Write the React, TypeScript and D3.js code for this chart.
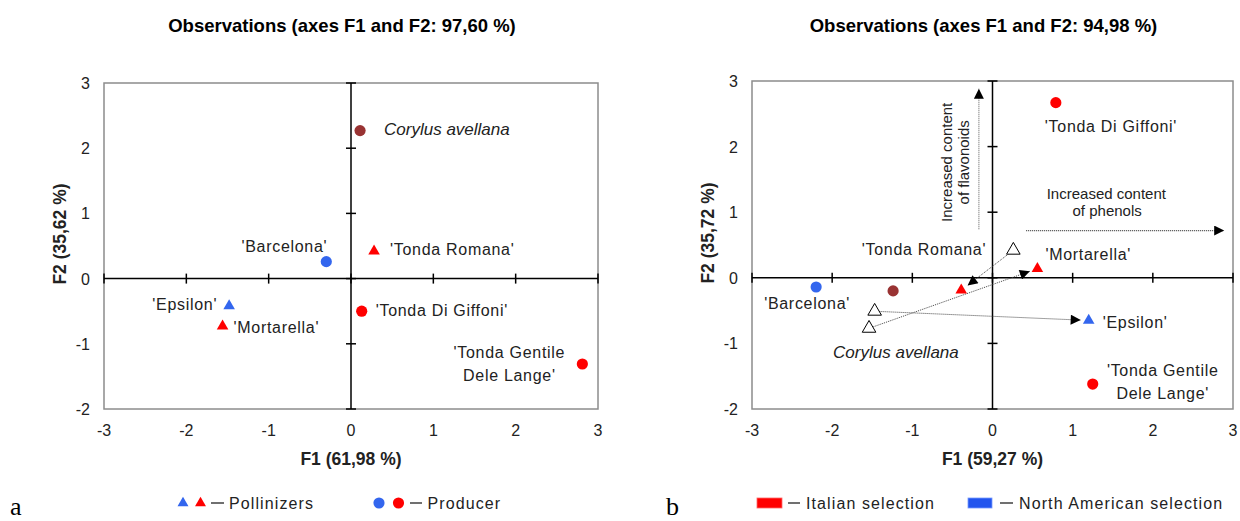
import React, { useEffect, useRef } from 'react';
import * as d3 from 'd3';

const xTicks = [-3, -2, -1, 0, 1, 2, 3];
const yTicks = [-2, -1, 0, 1, 2, 3];

// panel a (F1 61,98 %, F2 35,62 %)
const namesA = ['Corylus avellana', "'Barcelona'", "'Tonda Romana'", "'Epsilon'", "'Mortarella'", "'Tonda Di Giffoni'", "'Tonda Gentile|Dele Lange'"];
const f1A = [0.11, -0.30, 0.28, -1.48, -1.56, 0.13, 2.81];
const f2A = [2.27, 0.26, 0.42, -0.42, -0.73, -0.50, -1.31];
const groupA = ['wild', 'na', 'it', 'na', 'it', 'it', 'it'];
const shapeA = ['circle', 'circle', 'triangle', 'triangle', 'triangle', 'circle', 'circle'];

// panel b (F1 59,27 %, F2 35,72 %)
const namesB = ['Corylus avellana', "'Barcelona'", "'Tonda Romana'", "'Epsilon'", "'Mortarella'", "'Tonda Di Giffoni'", "'Tonda Gentile|Dele Lange'"];
const f1B = [-1.24, -2.20, -0.39, 1.20, 0.56, 0.79, 1.25];
const f2B = [-0.20, -0.14, -0.19, -0.65, 0.14, 2.67, -1.62];
const groupB = groupA;
const shapeB = shapeA;

// pollinizers that moved between a and b (open triangles = former position)
const movedIdx = [2, 3, 4];
const movedF1 = [0.26, -1.47, -1.54];
const movedF2 = [0.42, -0.51, -0.77];

// label placement (pixel offsets from the point)
const labelA = [
  { dx: 24, dy: 4, anchor: 'start' },
  { dx: 1, dy: -10, anchor: 'end' },
  { dx: 16, dy: 4, anchor: 'start' },
  { dx: -12, dy: 4, anchor: 'end' },
  { dx: 11, dy: 7, anchor: 'start' },
  { dx: 14, dy: 5, anchor: 'start' },
  { dx: -73, dy: -6, anchor: 'middle' },
];
const labelB = [
  { dx: -60, dy: 67, anchor: 'start' },
  { dx: -52, dy: 22, anchor: 'start' },
  { dx: 25, dy: -35, anchor: 'end' },
  { dx: 14, dy: 8, anchor: 'start' },
  { dx: 8, dy: -9, anchor: 'start' },
  { dx: -11, dy: 29, anchor: 'start' },
  { dx: 70, dy: -8, anchor: 'middle' },
];

const colors: Record<string, string> = { wild: '#993333', na: '#3366ee', it: '#ff0000' };
const SANS = 'Liberation Sans, Arial, sans-serif';

type Panel = {
  title: string; xTitle: string; yTitle: string;
  x0: number; x1: number; y0: number; y1: number;
  f1: number[]; f2: number[]; names: string[]; groups: string[]; shapes: string[];
  labels: { dx: number; dy: number; anchor: string }[];
};

function drawPanel(svg: d3.Selection<SVGSVGElement, unknown, null, undefined>, p: Panel) {
  const x = d3.scaleLinear().domain([-3, 3]).range([p.x0, p.x1]);
  const y = d3.scaleLinear().domain([-2, 3]).range([p.y1, p.y0]);
  const g = svg.append('g');

  g.append('text').attr('x', (p.x0 + p.x1) / 2 - 9).attr('y', 32).attr('text-anchor', 'middle')
    .attr('font-family', SANS).attr('font-weight', 'bold').attr('font-size', 18.5).text(p.title);

  g.append('rect').attr('x', p.x0).attr('y', p.y0).attr('width', p.x1 - p.x0).attr('height', p.y1 - p.y0)
    .attr('fill', 'none').attr('stroke', '#8c8c8c').attr('stroke-width', 1.5);

  // central axes with cross ticks
  g.append('line').attr('x1', p.x0).attr('x2', p.x1).attr('y1', y(0)).attr('y2', y(0)).attr('stroke', '#000').attr('stroke-width', 1.5);
  g.append('line').attr('x1', x(0)).attr('x2', x(0)).attr('y1', p.y0).attr('y2', p.y1).attr('stroke', '#000').attr('stroke-width', 1.5);
  g.selectAll('.tx').data(xTicks).enter().append('line')
    .attr('x1', d => x(d)).attr('x2', d => x(d)).attr('y1', y(0) - 5).attr('y2', y(0) + 5)
    .attr('stroke', '#000').attr('stroke-width', 1.5);
  g.selectAll('.ty').data(yTicks).enter().append('line')
    .attr('x1', x(0) - 5).attr('x2', x(0) + 5).attr('y1', d => y(d)).attr('y2', d => y(d))
    .attr('stroke', '#000').attr('stroke-width', 1.5);

  g.selectAll('.lx').data(xTicks).enter().append('text')
    .attr('x', d => x(d)).attr('y', p.y1 + 27).attr('text-anchor', 'middle')
    .attr('font-family', SANS).attr('font-size', 16).attr('fill', '#222').text(d => d);
  g.selectAll('.ly').data(yTicks).enter().append('text')
    .attr('x', p.x0 - 14).attr('y', d => y(d) + 6).attr('text-anchor', 'end')
    .attr('font-family', SANS).attr('font-size', 16).attr('fill', '#222').text(d => d);

  g.append('text').attr('x', x(0)).attr('y', p.y1 + 56).attr('text-anchor', 'middle')
    .attr('font-family', SANS).attr('font-weight', 'bold').attr('font-size', 17.5).attr('fill', '#222').text(p.xTitle);
  g.append('text').attr('transform', `translate(${p.x0 - 38},${(p.y0 + p.y1) / 2 - 12}) rotate(-90)`)
    .attr('text-anchor', 'middle').attr('font-family', SANS).attr('font-weight', 'bold')
    .attr('font-size', 17.5).attr('fill', '#222').text(p.yTitle);

  return { g, x, y };
}

function drawPoints(g: any, x: any, y: any, p: Panel) {
  const idx = d3.range(p.names.length);
  const tri = d3.symbol().type(d3.symbolTriangle).size(58);
  g.selectAll('.pt').data(idx).enter().append('path')
    .attr('d', (i: number) => p.shapes[i] === 'circle' ? d3.symbol().type(d3.symbolCircle).size(98)() : tri())
    .attr('transform', (i: number) => `translate(${x(p.f1[i])},${y(p.f2[i])})`)
    .attr('fill', (i: number) => colors[p.groups[i]]);

  const lab = g.selectAll('.lab').data(idx).enter().append('text')
    .attr('x', (i: number) => x(p.f1[i]) + p.labels[i].dx)
    .attr('y', (i: number) => y(p.f2[i]) + p.labels[i].dy)
    .attr('text-anchor', (i: number) => p.labels[i].anchor)
    .attr('font-family', SANS).attr('fill', '#222')
    .attr('font-size', (i: number) => (i === 0 ? 17 : 16))
    .attr('font-style', (i: number) => (i === 0 ? 'italic' : 'normal'))
    .attr('letter-spacing', (i: number) => (i === 0 ? 0 : 0.7));
  lab.each(function (this: SVGTextElement, i: number) {
    const parts = p.names[i].split('|');
    const t = d3.select(this);
    parts.forEach((s, k) => {
      t.append('tspan').attr('x', x(p.f1[i]) + p.labels[i].dx).attr('dy', k === 0 ? 0 : 23).text(s);
    });
  });
}

const App: React.FC = () => {
  const svgRef = useRef<SVGSVGElement>(null);

  useEffect(() => {
    if (!svgRef.current) return;
    d3.select(svgRef.current).selectAll('*').remove();
    const svg = d3.select(svgRef.current);

    const defs = svg.append('defs');
    defs.append('marker').attr('id', 'head').attr('viewBox', '0 0 10 10').attr('refX', 10).attr('refY', 5)
      .attr('markerWidth', 11).attr('markerHeight', 10).attr('markerUnits', 'userSpaceOnUse').attr('orient', 'auto')
      .append('path').attr('d', 'M0,0 L10,5 L0,10 Z').attr('fill', '#000');

    const panelA: Panel = {
      title: 'Observations (axes F1 and F2: 97,60 %)', xTitle: 'F1 (61,98 %)', yTitle: 'F2 (35,62 %)',
      x0: 104, x1: 598, y0: 83, y1: 409,
      f1: f1A, f2: f2A, names: namesA, groups: groupA, shapes: shapeA, labels: labelA,
    };
    const panelB: Panel = {
      title: 'Observations (axes F1 and F2: 94,98 %)', xTitle: 'F1 (59,27 %)', yTitle: 'F2 (35,72 %)',
      x0: 752, x1: 1233, y0: 81, y1: 409,
      f1: f1B, f2: f2B, names: namesB, groups: groupB, shapes: shapeB, labels: labelB,
    };

    const a = drawPanel(svg, panelA);
    drawPoints(a.g, a.x, a.y, panelA);

    const b = drawPanel(svg, panelB);
    const { g, x, y } = b;

    // trend arrows
    g.append('line').attr('x1', x(-0.17)).attr('x2', x(-0.17)).attr('y1', y(0.74)).attr('y2', y(2.88))
      .attr('stroke', '#777').attr('stroke-width', 1.2).attr('stroke-dasharray', '1,1').attr('marker-end', 'url(#head)');
    g.append('line').attr('x1', x(0.42)).attr('x2', x(2.89)).attr('y1', y(0.72)).attr('y2', y(0.72))
      .attr('stroke', '#444').attr('stroke-width', 1.2).attr('stroke-dasharray', '1,1').attr('marker-end', 'url(#head)');
    const fl = g.append('text').attr('transform', `translate(${x(-0.5)},${y(1.76)}) rotate(-90)`)
      .attr('text-anchor', 'middle').attr('font-family', SANS).attr('font-size', 15).attr('fill', '#222');
    fl.append('tspan').attr('x', 0).attr('dy', 0).text('Increased content');
    fl.append('tspan').attr('x', 0).attr('dy', 17).text('of flavonoids');
    const ph = g.append('text').attr('x', x(1.42)).attr('y', y(1.20))
      .attr('text-anchor', 'middle').attr('font-family', SANS).attr('font-size', 15).attr('fill', '#222');
    ph.append('tspan').attr('x', x(1.42)).attr('dy', 0).text('Increased content');
    ph.append('tspan').attr('x', x(1.43)).attr('dy', 17).text('of phenols');

    // shift arrows from former to new position
    movedIdx.forEach((i, k) => {
      const sx = x(movedF1[k]), sy = y(movedF2[k]);
      const tx = x(f1B[i]), ty = y(f2B[i]);
      const len = Math.hypot(tx - sx, ty - sy);
      const ex = tx - ((tx - sx) / len) * 8, ey = ty - ((ty - sy) / len) * 8;
      g.append('line').attr('x1', sx).attr('y1', sy).attr('x2', ex).attr('y2', ey)
        .attr('stroke', '#444').attr('stroke-width', 1).attr('stroke-dasharray', '1,1').attr('marker-end', 'url(#head)');
    });
    g.selectAll('.open').data(movedIdx.map((_, k) => k)).enter().append('path')
      .attr('d', d3.symbol().type(d3.symbolTriangle).size(80)())
      .attr('transform', (k: number) => `translate(${x(movedF1[k])},${y(movedF2[k])})`)
      .attr('fill', '#fff').attr('stroke', '#000').attr('stroke-width', 1);

    drawPoints(g, x, y, panelB);

    // legends
    const lg = svg.append('g').attr('font-family', SANS).attr('font-size', 16).attr('fill', '#222').attr('letter-spacing', 1.1);
    const triS = d3.symbol().type(d3.symbolTriangle).size(52)();
    const cirS = d3.symbol().type(d3.symbolCircle).size(98)();
    lg.append('path').attr('d', triS).attr('transform', 'translate(183,503)').attr('fill', colors.na);
    lg.append('path').attr('d', triS).attr('transform', 'translate(200.5,503)').attr('fill', colors.it);
    lg.append('line').attr('x1', 211).attr('x2', 224).attr('y1', 503).attr('y2', 503).attr('stroke', '#222').attr('stroke-width', 1.3);
    lg.append('text').attr('x', 229).attr('y', 509).text('Pollinizers');
    lg.append('path').attr('d', cirS).attr('transform', 'translate(379,503)').attr('fill', colors.na);
    lg.append('path').attr('d', cirS).attr('transform', 'translate(398.5,503)').attr('fill', colors.it);
    lg.append('line').attr('x1', 410).attr('x2', 422).attr('y1', 503).attr('y2', 503).attr('stroke', '#222').attr('stroke-width', 1.3);
    lg.append('text').attr('x', 427.5).attr('y', 509).text('Producer');

    lg.append('rect').attr('x', 757).attr('y', 498).attr('width', 25).attr('height', 10).attr('fill', colors.it).attr('stroke', '#ff6666').attr('stroke-width', 0.8);
    lg.append('line').attr('x1', 788).attr('x2', 800).attr('y1', 503).attr('y2', 503).attr('stroke', '#222').attr('stroke-width', 1.3);
    lg.append('text').attr('x', 806).attr('y', 509).text('Italian selection');
    lg.append('rect').attr('x', 968).attr('y', 498).attr('width', 24).attr('height', 10).attr('fill', '#2255ee').attr('stroke', '#7799ff').attr('stroke-width', 0.8);
    lg.append('line').attr('x1', 1000).attr('x2', 1013).attr('y1', 503).attr('y2', 503).attr('stroke', '#222').attr('stroke-width', 1.3);
    lg.append('text').attr('x', 1019).attr('y', 509).text('North American selection');

    // panel letters
    svg.append('text').attr('x', 10).attr('y', 515).attr('font-family', 'Liberation Serif, serif').attr('font-size', 26).text('a');
    svg.append('text').attr('x', 666).attr('y', 515).attr('font-family', 'Liberation Serif, serif').attr('font-size', 26).text('b');
  }, []);

  return (
    <svg ref={svgRef} width={1240} height={521}
      style={{ position: 'absolute', left: 0, top: 0, background: '#fff' }} />
  );
};

export default App;
